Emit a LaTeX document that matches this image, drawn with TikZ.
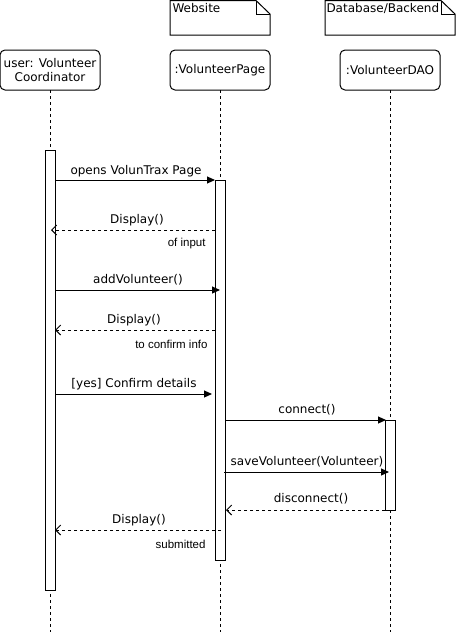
\documentclass[tikz,border=0pt]{standalone}
\usepackage{fontspec}
\setmainfont{DejaVu Sans}
\newfontfamily\arialfont{Liberation Sans}
\usetikzlibrary{arrows.meta}
\begin{document}
\begin{tikzpicture}[x=1pt,y=-1pt,line width=1pt,
  font=\fontsize{12}{14.5}\selectfont,
  obj/.style={draw, rounded corners=5pt, minimum width=100pt, minimum height=40pt, align=center, inner sep=0pt, outer sep=0pt},
  life/.style={line width=0.8pt, dash pattern=on 3pt off 3pt},
  act/.style={draw, fill=white, minimum width=10pt, inner sep=0pt, outer sep=0pt},
  msg/.style={-{Triangle[length=8pt,width=7pt]}},
  ret/.style={dash pattern=on 3pt off 3pt, -{Straight Barb[length=5pt,width=10pt]}},
  lbl/.style={inner sep=0pt},
  small/.style={inner sep=0pt, anchor=east, font=\arialfont\fontsize{11.5}{14}\selectfont},
  notetxt/.style={inner sep=0pt, anchor=west}]
\useasboundingbox (0,0) rectangle (457,632);

% notes
\draw (170,0.5) -- (256,0.5) -- (270,14) -- (270,35) -- (170,35) -- cycle;
\draw (256,0.5) -- (256,14) -- (270,14);
\node[notetxt] (n1) at (172,8) {Website};
\draw (325,0.5) -- (441,0.5) -- (455,14) -- (455,35) -- (325,35) -- cycle;
\draw (441,0.5) -- (441,14) -- (455,14);
\node[notetxt] (n2) at (326,8) {Database/Backend};

% objects
\node[obj] (o1) at (50,70) {user: Volunteer\\Coordinator};
\node[obj] (o2) at (220,70) {:VolunteerPage};
\node[obj] (o3) at (390,70) {:VolunteerDAO};

% lifelines
\coordinate (e1) at (50,632);
\coordinate (e2) at (220,632);
\coordinate (e3) at (390,632);
\draw[life] (o1.south) -- (e1);
\draw[life] (o2.south) -- (e2);
\draw[life] (o3.south) -- (e3);

% activations
\node[act, minimum height=440pt, anchor=north] (a1) at (50,150) {};
\node[act, minimum height=380pt, anchor=north] (a2) at (220,180) {};
\node[act, minimum height=90pt, anchor=north] (a3) at (390,420) {};

% message end points
\coordinate (m1s) at (55,180);  \coordinate (m1e) at (215,180);
\coordinate (m2s) at (215,230); \coordinate (m2e) at (51,230);
\coordinate (m3s) at (55,290);  \coordinate (m3e) at (220,290);
\coordinate (m4s) at (215,330); \coordinate (m4e) at (55,330);
\coordinate (m5s) at (55,394);  \coordinate (m5e) at (212,394);
\coordinate (m6s) at (225,420); \coordinate (m6e) at (386,420);
\coordinate (m7s) at (224,472); \coordinate (m7e) at (389,472);
\coordinate (m8s) at (385,510); \coordinate (m8e) at (226,510);
\coordinate (m9s) at (221,530); \coordinate (m9e) at (55,530);

\draw[msg] (m1s) -- (m1e);
\draw[ret] (m2s) -- (m2e);
\draw[msg] (m3s) -- (m3e);
\draw[ret] (m4s) -- (m4e);
\draw[msg] (m5s) -- (m5e);
\draw[msg] (m6s) -- (m6e);
\draw[msg] (m7s) -- (m7e);
\draw[ret] (m8s) -- (m8e);
\draw[ret] (m9s) -- (m9e);

% labels
\node[lbl] (l1) at (136,171) {opens VolunTrax Page};
\node[lbl] (l2) at (137,220) {Display()};
\node[small] (s2) at (206,244) {of input};
\node[lbl] (l3) at (138,280) {addVolunteer()};
\node[lbl] (l4) at (134,320) {Display()};
\node[small] (s4) at (208,344) {to confirm info};
\node[lbl] (l5) at (134,384) {[yes] Confirm details};
\node[lbl] (l6) at (307,410) {connect()};
\node[lbl] (l7) at (307,462) {saveVolunteer(Volunteer)};
\node[lbl] (l8) at (311,499) {disconnect()};
\node[lbl] (l9) at (139,520) {Display()};
\node[small] (s9) at (206,544) {submitted};
\end{tikzpicture}
\end{document}
